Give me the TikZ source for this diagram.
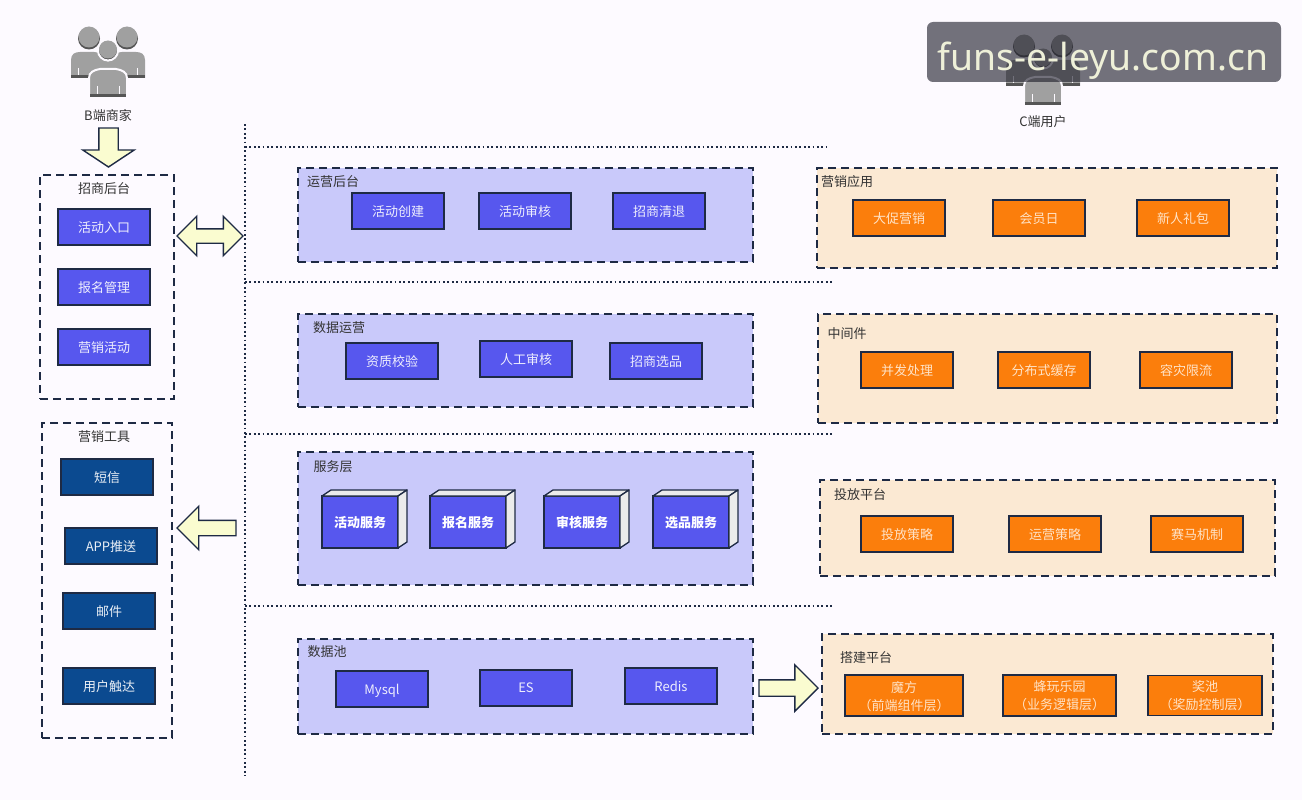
\documentclass[tikz,border=0pt]{standalone}
\usepackage{xcolor}
\usepackage{fontspec}
\setmainfont{Noto Sans CJK SC}
\newfontfamily\markfont{Noto Sans}
\usepackage{tikz}
\usetikzlibrary{positioning,shapes.arrows}
\definecolor{pagebg}{HTML}{FDFAFF}
\definecolor{edgedark}{HTML}{1E2A44}
\definecolor{bluebox}{HTML}{5757EE}
\definecolor{navybox}{HTML}{0B4A90}
\definecolor{orangebox}{HTML}{FB7E0C}
\definecolor{bluepanel}{HTML}{C9C9FA}
\definecolor{orangepanel}{HTML}{FBE9D3}
\definecolor{arrowfill}{HTML}{FAFCD0}
\definecolor{figgray}{HTML}{A0A0A0}
\definecolor{figdark}{HTML}{555555}
\definecolor{markbg}{HTML}{1E1E2A}
\definecolor{marktext}{HTML}{EEF0D8}
\tikzset{
  every node/.style={font=\fontsize{13}{18}\selectfont, text=black!80, outer sep=0pt, inner sep=0pt, text depth=0pt},
  dashedge/.style={draw=edgedark, line width=1.5pt, dash pattern=on 8pt off 5pt},
  group/.style={dashedge, anchor=north west},
  bluegroup/.style={group, fill=bluepanel},
  orangegroup/.style={group, fill=orangepanel},
  flatbox/.style={draw=edgedark, line width=1.3pt, minimum width=92pt, minimum height=36pt, align=center, anchor=north west},
  bluecell/.style={flatbox, fill=bluebox, text=white!90!bluebox},
  navycell/.style={flatbox, fill=navybox, text=white!92!navybox},
  orangecell/.style={flatbox, fill=orangebox, text=orange!22!white},
  servicecell/.style={flatbox, fill=bluebox, text=white, minimum width=76pt, minimum height=52pt, font=\fontsize{13}{18}\selectfont\bfseries},
  cubeface/.style={draw=edgedark, line width=1.3pt, fill=black!8, line join=round},
  dotline/.style={draw=edgedark, line width=1.7pt, dash pattern=on 1.8pt off 2.6pt},
  blockarrow/.style={draw=edgedark, line width=1.4pt, fill=arrowfill, single arrow},
  pics/peoplefig/.style={code={
    \fill[figdark] (-19,-21.5) circle (11);
    \fill[figgray] (-19,-23) circle (10.5);
    \fill[figdark] (19,-21.5) circle (11);
    \fill[figgray] (19,-23) circle (10.5);
    \fill[figgray] (-37,18) -- (-37,0) .. controls (-37,-6) and (-33,-8) .. (-28,-8) -- (-14,-8) .. controls (-6,-7) and (0,-4) .. (0,3) -- (0,18) -- cycle;
    \fill[figgray] (37,18) -- (37,0) .. controls (37,-6) and (33,-8) .. (28,-8) -- (14,-8) .. controls (6,-7) and (0,-4) .. (0,3) -- (0,18) -- cycle;
    \fill[figdark] (-37,15.5) rectangle (37,18);
    \draw[pagebg, line width=1pt] (-29.5,8) -- (-29.5,15) (29.5,8) -- (29.5,15);
    \draw[pagebg, line width=2pt, fill=figgray] (-19,37) -- (-19,18) .. controls (-19,12) and (-14,10) .. (-8,9) -- (8,9) .. controls (14,10) and (19,12) .. (19,18) -- (19,37) -- cycle;
    \fill[figdark] (-18,34.5) rectangle (18,37);
    \draw[pagebg, line width=1pt] (-11,26) -- (-11,34.5) (11,26) -- (11,34.5);
    \draw[pagebg, line width=2pt, fill=figdark] (0,-9.5) circle (10);
    \fill[figgray] (0,-10.5) circle (9);
  }}
}

\begin{document}
\begin{tikzpicture}[x=1pt, y=-1pt]
  \useasboundingbox[fill=pagebg] (0,0) rectangle (1302,800);

  % left column
  \pic at (108,60) {peoplefig};
  \node (bUser) at (108,115) {B端商家};
  \node[group, minimum width=134pt, minimum height=224pt] (recruit) at (40,175) {};
  \node at (104,188) (recruitT) {招商后台};
  \node[bluecell] (r1) at (58,209) {活动入口};
  \node[bluecell, below=24pt of r1] (r2) {报名管理};
  \node[bluecell, below=24pt of r2] (r3) {营销活动};

  \node[group, minimum width=130pt, minimum height=315pt] (tools) at (42,423) {};
  \node at (104,436) (toolsT) {营销工具};
  \node[navycell] (t1) at (61,459) {短信};
  \node[navycell] (t2) at (65,528) {APP推送};
  \node[navycell] (t3) at (63,593) {邮件};
  \node[navycell] (t4) at (63,668) {用户触达};

  % dividers
  \coordinate (divTop) at (245,124);
  \coordinate (divBottom) at (245,776);
  \coordinate (rowA) at (245,147);
  \coordinate (rowAEnd) at (826,147);
  \coordinate (rowB) at (245,282);
  \coordinate (rowBEnd) at (832,282);
  \coordinate (rowC) at (245,434);
  \coordinate (rowCEnd) at (832,434);
  \coordinate (rowD) at (245,606);
  \coordinate (rowDEnd) at (832,606);
  \draw[dotline] (divTop) -- (divBottom);
  \draw[dotline] (rowA) -- (rowAEnd);
  \draw[dotline] (rowB) -- (rowBEnd);
  \draw[dotline] (rowC) -- (rowCEnd);
  \draw[dotline] (rowD) -- (rowDEnd);

  % blue panels
  \node[bluegroup, minimum width=455pt, minimum height=94pt] (ops) at (298,168) {};
  \node (opsT) at (333,181) {运营后台};
  \node[bluecell] (o1) at (352,193) {活动创建};
  \node[bluecell, right=35pt of o1] (o2) {活动审核};
  \node[bluecell, right=42pt of o2] (o3) {招商清退};

  \node[bluegroup, minimum width=455pt, minimum height=93pt] (dataops) at (298,314) {};
  \node (dataopsT) at (339,327) {数据运营};
  \node[bluecell] (d1) at (346,343) {资质校验};
  \node[bluecell, right=42pt of d1, yshift=2pt] (d2) {人工审核};
  \node[bluecell, right=38pt of d2, yshift=-2pt] (d3) {招商选品};

  \node[bluegroup, minimum width=455pt, minimum height=133pt] (svc) at (298,452) {};
  \node (svcT) at (333,466) {服务层};
  \node[servicecell] (s1) at (322,496) {活动服务};
  \node[servicecell, right=32pt of s1] (s2) {报名服务};
  \node[servicecell, right=38pt of s2] (s3) {审核服务};
  \node[servicecell, right=33pt of s3] (s4) {选品服务};
  \draw[cubeface] (s1.north west) -- ++(9,-6) -- ++(76,0) -- (s1.north east) -- cycle;
  \draw[cubeface] (s1.north east) -- ++(9,-6) -- ++(0,52) -- (s1.south east) -- cycle;
  \draw[cubeface] (s2.north west) -- ++(9,-6) -- ++(76,0) -- (s2.north east) -- cycle;
  \draw[cubeface] (s2.north east) -- ++(9,-6) -- ++(0,52) -- (s2.south east) -- cycle;
  \draw[cubeface] (s3.north west) -- ++(9,-6) -- ++(76,0) -- (s3.north east) -- cycle;
  \draw[cubeface] (s3.north east) -- ++(9,-6) -- ++(0,52) -- (s3.south east) -- cycle;
  \draw[cubeface] (s4.north west) -- ++(9,-6) -- ++(76,0) -- (s4.north east) -- cycle;
  \draw[cubeface] (s4.north east) -- ++(9,-6) -- ++(0,52) -- (s4.south east) -- cycle;

  \node[bluegroup, minimum width=455pt, minimum height=95pt] (pool) at (298,639) {};
  \node (poolT) at (327,651) {数据池};
  \node[bluecell] (p1) at (336,671) {Mysql};
  \node[bluecell, right=52pt of p1, yshift=1pt] (p2) {ES};
  \node[bluecell, right=53pt of p2, yshift=2pt] (p3) {Redis};

  % orange panels
  \node[orangegroup, minimum width=460pt, minimum height=100pt] (market) at (817,168) {};
  \node (marketT) at (847,181) {营销应用};
  \node[orangecell] (m1) at (853,200) {大促营销};
  \node[orangecell, right=48pt of m1] (m2) {会员日};
  \node[orangecell, right=52pt of m2] (m3) {新人礼包};

  \node[orangegroup, minimum width=459pt, minimum height=109pt] (middle) at (818,314) {};
  \node (middleT) at (847,333) {中间件};
  \node[orangecell] (w1) at (861,352) {并发处理};
  \node[orangecell, right=45pt of w1] (w2) {分布式缓存};
  \node[orangecell, right=50pt of w2] (w3) {容灾限流};

  \node[orangegroup, minimum width=455pt, minimum height=96pt] (deliver) at (820,480) {};
  \node (deliverT) at (860,494) {投放平台};
  \node[orangecell] (v1) at (861,516) {投放策略};
  \node[orangecell, right=56pt of v1] (v2) {运营策略};
  \node[orangecell, right=50pt of v2] (v3) {赛马机制};

  \node[orangegroup, minimum width=451pt, minimum height=100pt] (build) at (822,634) {};
  \node (buildT) at (866,657) {搭建平台};
  \node[orangecell, minimum width=118pt, minimum height=41pt] (b1) at (845,675) {魔方\\（前端组件层）};
  \node[orangecell, minimum width=113pt, minimum height=41pt, right=40pt of b1] (b2) {蜂玩乐园\\（业务逻辑层）};
  \node[orangecell, minimum width=114pt, minimum height=40pt, right=32pt of b2] (b3) {奖池\\（奖励控制层）};

  % block arrows
  \node[blockarrow, inner sep=9pt, single arrow head extend=16pt, single arrow tip angle=113, minimum height=39pt, shape border rotate=270, anchor=tip] (downArrow) at (108.5,167) {};
  \node[blockarrow, double arrow, inner sep=6.5pt, double arrow head extend=12.5pt, double arrow tip angle=90, minimum height=66pt] (bothArrow) at (210,236) {};
  \node[blockarrow, inner sep=7pt, single arrow head extend=14pt, single arrow tip angle=90, shape border rotate=180, minimum height=59pt, anchor=tip] (leftArrow) at (177,528) {};
  \node[blockarrow, inner sep=7.5pt, single arrow head extend=15pt, single arrow tip angle=90, minimum height=59pt, anchor=tip] (rightArrow) at (818,688) {};

  % right-hand user and site mark
  \pic at (1043,68) {peoplefig};
  \node (cUser) at (1043,121) {C端用户};
  \fill[fill=markbg, opacity=.62, rounded corners=6pt] (927,22) rectangle (1281,82);
  \node[font=\fontsize{37.3}{40}\markfont, text=marktext] (siteMark) at (1103,56) {funs-e-leyu.com.cn};
\end{tikzpicture}
\end{document}
